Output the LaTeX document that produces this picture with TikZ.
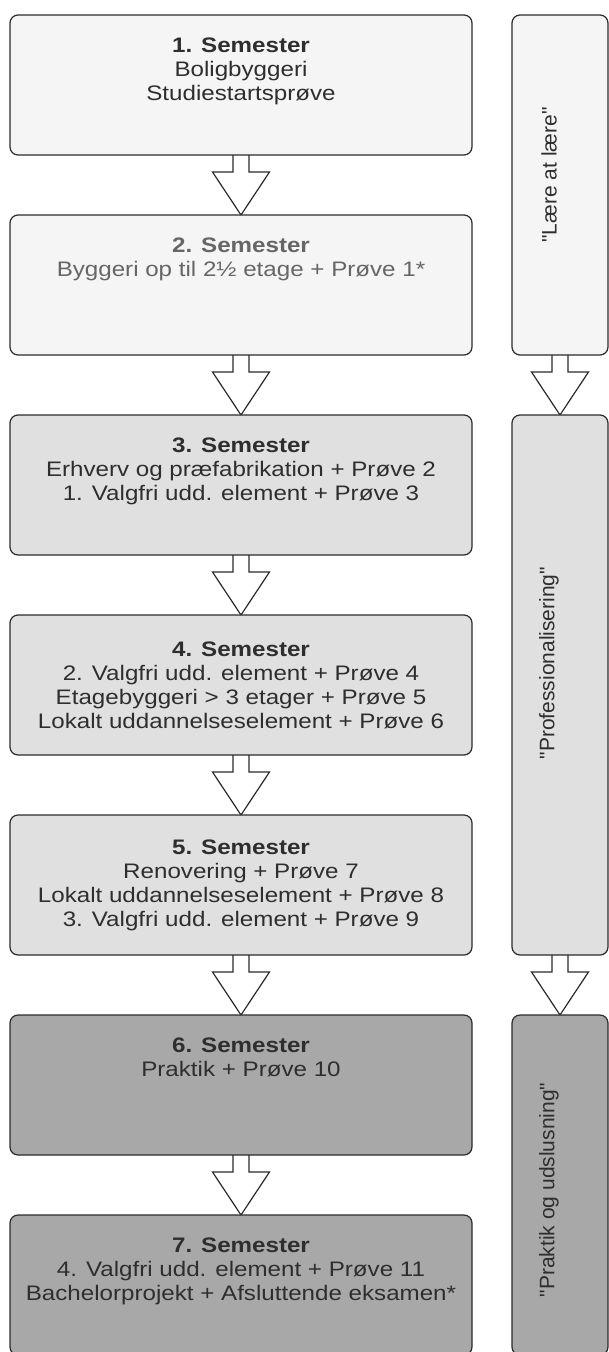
\documentclass[tikz,border=0pt]{standalone}
\usepackage{fontspec}
\setmainfont{Liberation Sans}[FakeStretch=1.15]
\newfontfamily\vertfont{Liberation Sans}
\usetikzlibrary{positioning,calc,backgrounds}

\definecolor{paleGrey}{HTML}{F5F5F5}
\definecolor{midGrey}{HTML}{E0E0E0}
\definecolor{darkGrey}{HTML}{A8A8A8}
\definecolor{edgeGrey}{HTML}{2B2B2B}
\definecolor{textGrey}{HTML}{2E2E2E}
\definecolor{fadedText}{HTML}{666666}

% hollow block arrow from the bottom of one box to the top of the next
\newcommand{\hollowarrow}[2]{%
  \draw[hollow] ($(#1.south)+(-8,0)$) -- ++(0,17) -- ++(-20.5,0) -- (#2.north)
    -- ($(#1.south)+(28.5,17)$) -- ++(-20.5,0) -- ++(0,-17);}

\begin{document}
\begin{tikzpicture}[x=1pt,y=-1pt,
  semester/.style={draw=edgeGrey,line width=1.2pt,rounded corners=8pt,
    minimum width=462pt,minimum height=140pt,inner sep=0pt,outer sep=0pt,
    align=center,text=textGrey,font=\fontsize{21}{24}\selectfont},
  phase/.style={draw=edgeGrey,line width=1.2pt,rounded corners=8pt,
    minimum width=96pt,inner sep=0pt,outer sep=0pt,anchor=north west},
  vertlabel/.style={rotate=90,inner sep=0pt,text=textGrey,
    font=\vertfont\fontsize{21}{24}\selectfont},
  hollow/.style={draw=edgeGrey,line width=1.2pt,fill=white,line join=miter}]

  \useasboundingbox (0,0) rectangle (609,1352);

  % semesters
  \node[semester,fill=paleGrey] (sem1) at (241,85)
    {\textbf{1. Semester}\\ Boligbyggeri\\ Studiestartsprøve\\ \strut};
  \node[semester,fill=paleGrey,text=fadedText,below=60pt of sem1] (sem2)
    {\textbf{2. Semester}\\ Byggeri op til 2½ etage + Prøve 1*\\ \strut\\ \strut};
  \node[semester,fill=midGrey,below=60pt of sem2] (sem3)
    {\textbf{3. Semester}\\ Erhverv og præfabrikation + Prøve 2\\
     1. Valgfri udd. element + Prøve 3\\ \strut};
  \node[semester,fill=midGrey,below=60pt of sem3] (sem4)
    {\textbf{4. Semester}\\ 2. Valgfri udd. element + Prøve 4\\
     Etagebyggeri > 3 etager + Prøve 5\\ Lokalt uddannelseselement + Prøve 6};
  \node[semester,fill=midGrey,below=60pt of sem4] (sem5)
    {\textbf{5. Semester}\\ Renovering + Prøve 7\\
     Lokalt uddannelseselement + Prøve 8\\ 3. Valgfri udd. element + Prøve 9};
  \node[semester,fill=darkGrey,below=60pt of sem5] (sem6)
    {\textbf{6. Semester}\\ Praktik + Prøve 10\\ \strut\\ \strut};
  \node[semester,fill=darkGrey,below=60pt of sem6] (sem7)
    {\textbf{7. Semester}\\ 4. Valgfri udd. element + Prøve 11\\
     Bachelorprojekt + Afsluttende eksamen*\\ \strut};

  % phases
  \node[phase,fill=paleGrey,minimum height=340pt] (laere) at (512,15) {};
  \node[phase,fill=midGrey,minimum height=540pt] (prof) at (512,415) {};
  \node[phase,fill=darkGrey,minimum height=340pt] (praktik) at (512,1015) {};
  \node[vertlabel] (laereTxt) at ($(laere.center)+(-11,-10)$) {"Lære at lære"};
  \node[vertlabel] (profTxt) at ($(prof.center)+(-11,-22)$) {"Professionalisering"};
  \node[vertlabel] (praktikTxt) at ($(praktik.center)+(-11,5)$) {"Praktik og udslusning"};

  \begin{pgfonlayer}{background}
    \hollowarrow{sem1}{sem2}
    \hollowarrow{sem2}{sem3}
    \hollowarrow{sem3}{sem4}
    \hollowarrow{sem4}{sem5}
    \hollowarrow{sem5}{sem6}
    \hollowarrow{sem6}{sem7}
    \hollowarrow{laere}{prof}
    \hollowarrow{prof}{praktik}
  \end{pgfonlayer}
\end{tikzpicture}
\end{document}
